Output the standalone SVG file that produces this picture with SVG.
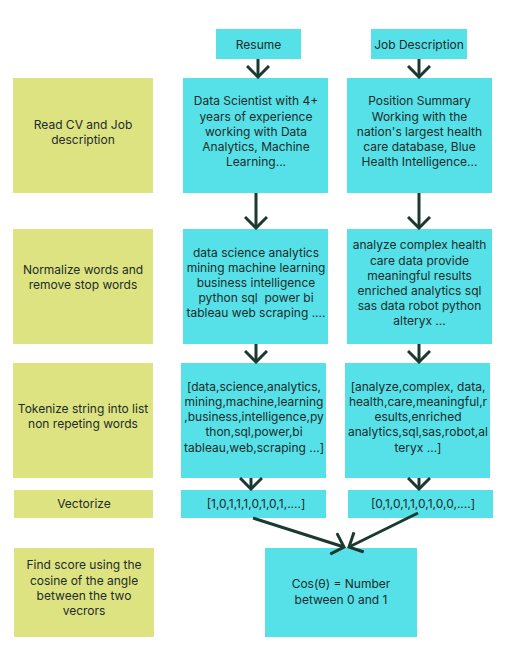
<svg xmlns="http://www.w3.org/2000/svg" width="513" height="663" viewBox="0 0 513 663">
<defs>
<style>
.c{fill:#55e1e7}
.g{fill:#dde380}
text{font-family:Inter,"Liberation Sans",sans-serif;font-size:12px;fill:#1d2b2b;text-anchor:middle;dominant-baseline:central}
.a{stroke:#1b3a2f;stroke-width:3;fill:none;stroke-linecap:butt}
</style>
<marker id="ah" viewBox="-12 -12 14 24" markerWidth="14" markerHeight="24" refX="0" refY="0" orient="auto" markerUnits="userSpaceOnUse">
<path d="M-11,-11 L0,0 L-11,11" fill="none" stroke="#1b3a2f" stroke-width="3"/>
</marker>
</defs>
<rect width="513" height="663" fill="#ffffff"/>
<g id="resume"><rect class="c" x="216" y="29" width="85" height="30"/><text x="258.5" y="44">Resume</text></g>
<g id="jobdesc"><rect class="c" x="371" y="29" width="96" height="30"/><text x="419" y="44">Job Description</text></g>
<g id="step1"><rect class="g" x="13" y="78" width="140" height="115"/><text x="83" y="124">Read CV and Job</text><text x="83" y="139">description</text></g>
<g id="cv1"><rect class="c" x="183" y="78" width="145" height="115"/>
<text x="256" y="100">Data Scientist with 4+</text><text x="256" y="116">years of experience</text><text x="256" y="131">working with Data</text><text x="256" y="146">Analytics, Machine</text><text x="256" y="161">Learning...</text></g>
<g id="jd1"><rect class="c" x="347" y="78" width="145" height="115"/>
<text x="419.5" y="100">Position Summary</text><text x="419.5" y="116">Working with the</text><text x="419.5" y="131">nation's largest health</text><text x="419.5" y="146">care database, Blue</text><text x="419.5" y="161">Health Intelligence...</text></g>
<g id="step2"><rect class="g" x="13" y="229" width="140" height="115"/><text x="83" y="269">Normalize words and</text><text x="83" y="284">remove stop words</text></g>
<g id="cv2"><rect class="c" x="183" y="229" width="145" height="115"/>
<text x="256" y="252">data science analytics</text><text x="256" y="267">mining machine learning</text><text x="256" y="282">business intelligence</text><text x="256" y="297" xml:space="preserve">python sql  power bi</text><text x="256" y="312">tableau web scraping ....</text></g>
<g id="jd2"><rect class="c" x="347" y="229" width="145" height="115"/>
<text x="419.5" y="244">analyze complex health</text><text x="419.5" y="260">care data provide</text><text x="419.5" y="275">meaningful results</text><text x="419.5" y="290">enriched analytics sql</text><text x="419.5" y="305">sas data robot python</text><text x="419.5" y="320">alteryx ...</text></g>
<g id="step3"><rect class="g" x="13" y="363" width="140" height="115"/><text x="83" y="408">Tokenize string into list</text><text x="83" y="423">non repeting words</text></g>
<g id="cv3"><rect class="c" x="181" y="363" width="145" height="115"/>
<text x="254" y="386">[data,science,analytics,</text><text x="254" y="401">mining,machine,learning</text><text x="254" y="416">,business,intelligence,py</text><text x="254" y="431">thon,sql,power,bi</text><text x="254" y="447">tableau,web,scraping ...]</text></g>
<g id="jd3"><rect class="c" x="345" y="363" width="145" height="115"/>
<text x="418" y="386">[analyze,complex, data,</text><text x="418" y="401">health,care,meaningful,r</text><text x="418" y="416">esults,enriched</text><text x="418" y="431">analytics,sql,sas,robot,al</text><text x="418" y="447">teryx ...]</text></g>
<g id="step4"><rect class="g" x="14" y="490" width="139" height="28"/><text x="84" y="503">Vectorize</text></g>
<g id="cv4"><rect class="c" x="181" y="490" width="145" height="28"/><text x="256" y="503">[1,0,1,1,1,0,1,0,1,....]</text></g>
<g id="jd4"><rect class="c" x="348" y="490" width="145" height="28"/><text x="423" y="503">[0,1,0,1,1,0,1,0,0,....]</text></g>
<g id="step5"><rect class="g" x="14" y="548" width="140" height="89"/><text x="84" y="564">Find score using the</text><text x="84" y="580">cosine of the angle</text><text x="84" y="595">between the two</text><text x="84" y="610">vecrors</text></g>
<g id="result"><rect class="c" x="265" y="548" width="152" height="89"/><text x="341" y="583">Cos(θ) = Number</text><text x="341" y="599">between 0 and 1</text></g>
<g id="connectors">
<line class="a" x1="258" y1="59" x2="258" y2="77" marker-end="url(#ah)"/>
<line class="a" x1="419" y1="59" x2="419" y2="77" marker-end="url(#ah)"/>
<line class="a" x1="256" y1="193" x2="256" y2="228" marker-end="url(#ah)"/>
<line class="a" x1="419" y1="193" x2="419" y2="228" marker-end="url(#ah)"/>
<line class="a" x1="256" y1="344" x2="256" y2="362" marker-end="url(#ah)"/>
<line class="a" x1="419" y1="344" x2="419" y2="362" marker-end="url(#ah)"/>
<line class="a" x1="251" y1="478" x2="251" y2="489" marker-end="url(#ah)"/>
<line class="a" x1="419" y1="478" x2="419" y2="489" marker-end="url(#ah)"/>
<line class="a" x1="253" y1="518" x2="344" y2="547" marker-end="url(#ah)"/>
<line class="a" x1="418" y1="513" x2="349" y2="547" marker-end="url(#ah)"/>
</g>
</svg>
